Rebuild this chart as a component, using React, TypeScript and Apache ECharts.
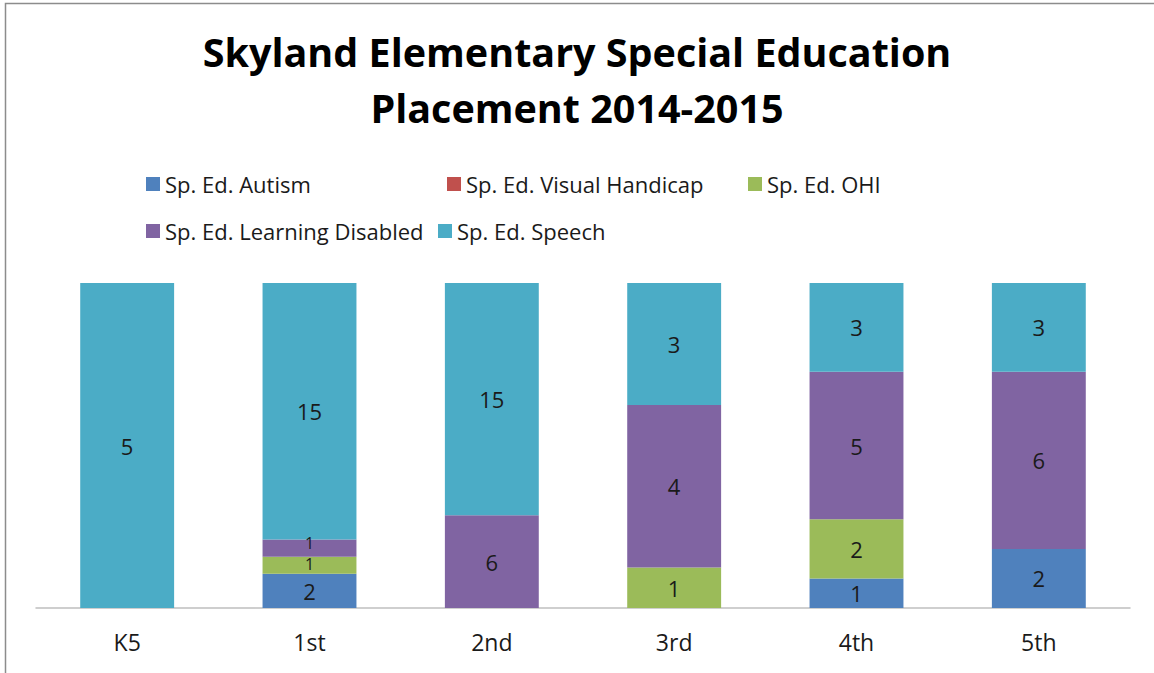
import React, { useEffect, useRef } from "react";
import * as echarts from "echarts";

const categories = ["K5", "1st", "2nd", "3rd", "4th", "5th"];
const seriesNames = [
  "Sp. Ed. Autism",
  "Sp. Ed. Visual Handicap",
  "Sp. Ed. OHI",
  "Sp. Ed. Learning Disabled",
  "Sp. Ed. Speech",
];
const autism = [0, 2, 0, 0, 1, 2];
const visualHandicap = [0, 0, 0, 0, 0, 0];
const ohi = [0, 1, 0, 1, 2, 0];
const learningDisabled = [0, 1, 6, 4, 5, 6];
const speech = [5, 15, 15, 3, 3, 3];

const colors = ["#4F81BD", "#C0504D", "#9BBB59", "#8064A2", "#4BACC6"];
const legendPos = [
  { left: 141, top: 168 },
  { left: 442, top: 168 },
  { left: 743, top: 168 },
  { left: 141, top: 215 },
  { left: 433, top: 215 },
];

const FONT = "'Open Sans', Lato, sans-serif";

export default function App() {
  const ref = useRef<HTMLDivElement>(null);
  useEffect(() => {
    if (!ref.current) return;
    const chart = echarts.init(ref.current, null, { renderer: "svg" });
    const all = [autism, visualHandicap, ohi, learningDisabled, speech];
    const totals = categories.map((_, i) => all.reduce((s, arr) => s + arr[i], 0));
    const series = all.map((arr, k) => ({
      name: seriesNames[k],
      type: "bar",
      stack: "total",
      barWidth: "51.5%",
      itemStyle: { color: colors[k] },
      label: {
        show: true,
        position: "inside",
        color: "#1a1a1a",
        fontSize: 22,
        fontFamily: FONT,
        formatter: (p: any) => (arr[p.dataIndex] ? String(arr[p.dataIndex]) : ""),
      },
      data: arr.map((v, i) => {
        const pct = totals[i] ? (v / totals[i]) * 100 : 0;
        if (pct > 0 && pct < 7) {
          return {
            value: pct,
            label: { fontSize: 16, lineHeight: 14, offset: [0, k < 3 ? -1 : -5] },
          };
        }
        return pct;
      }),
    }));
    chart.setOption({
      animation: false,
      backgroundColor: "#ffffff",
      title: {
        text: "Skyland Elementary Special Education\nPlacement 2014-2015",
        left: "center",
        top: 19,
        textStyle: {
          fontFamily: FONT,
          fontWeight: "bold",
          fontSize: 39.5,
          lineHeight: 56,
          color: "#000000",
        },
      },
      legend: seriesNames.map((n, k) => ({
        data: [n],
        left: legendPos[k].left,
        top: legendPos[k].top,
        icon: "rect",
        itemWidth: 14,
        itemHeight: 14,
        selectedMode: false,
        textStyle: {
          fontFamily: FONT,
          fontSize: 22,
          color: "#1a1a1a",
        },
      })),
      grid: { left: 36, right: 24, top: 283, bottom: 65 },
      xAxis: {
        type: "category",
        data: categories,
        axisLine: { lineStyle: { color: "#BFBFBF", width: 1.5 } },
        axisTick: { show: false },
        axisLabel: {
          fontFamily: FONT,
          fontSize: 23,
          color: "#1a1a1a",
          margin: 22,
        },
      },
      yAxis: {
        type: "value",
        min: 0,
        max: 100,
        show: false,
        splitLine: { show: false },
      },
      graphic: [
        {
          type: "rect",
          shape: { x: 5.5, y: 3.5, width: 1300, height: 800 },
          style: { fill: "none", stroke: "#8c8c8c", lineWidth: 1.5 },
          silent: true,
        },
      ],
      series,
    });
    return () => chart.dispose();
  }, []);
  return (
    <div
      ref={ref}
      style={{ position: "fixed", left: 0, top: 0, width: 1154, height: 673 }}
    />
  );
}
